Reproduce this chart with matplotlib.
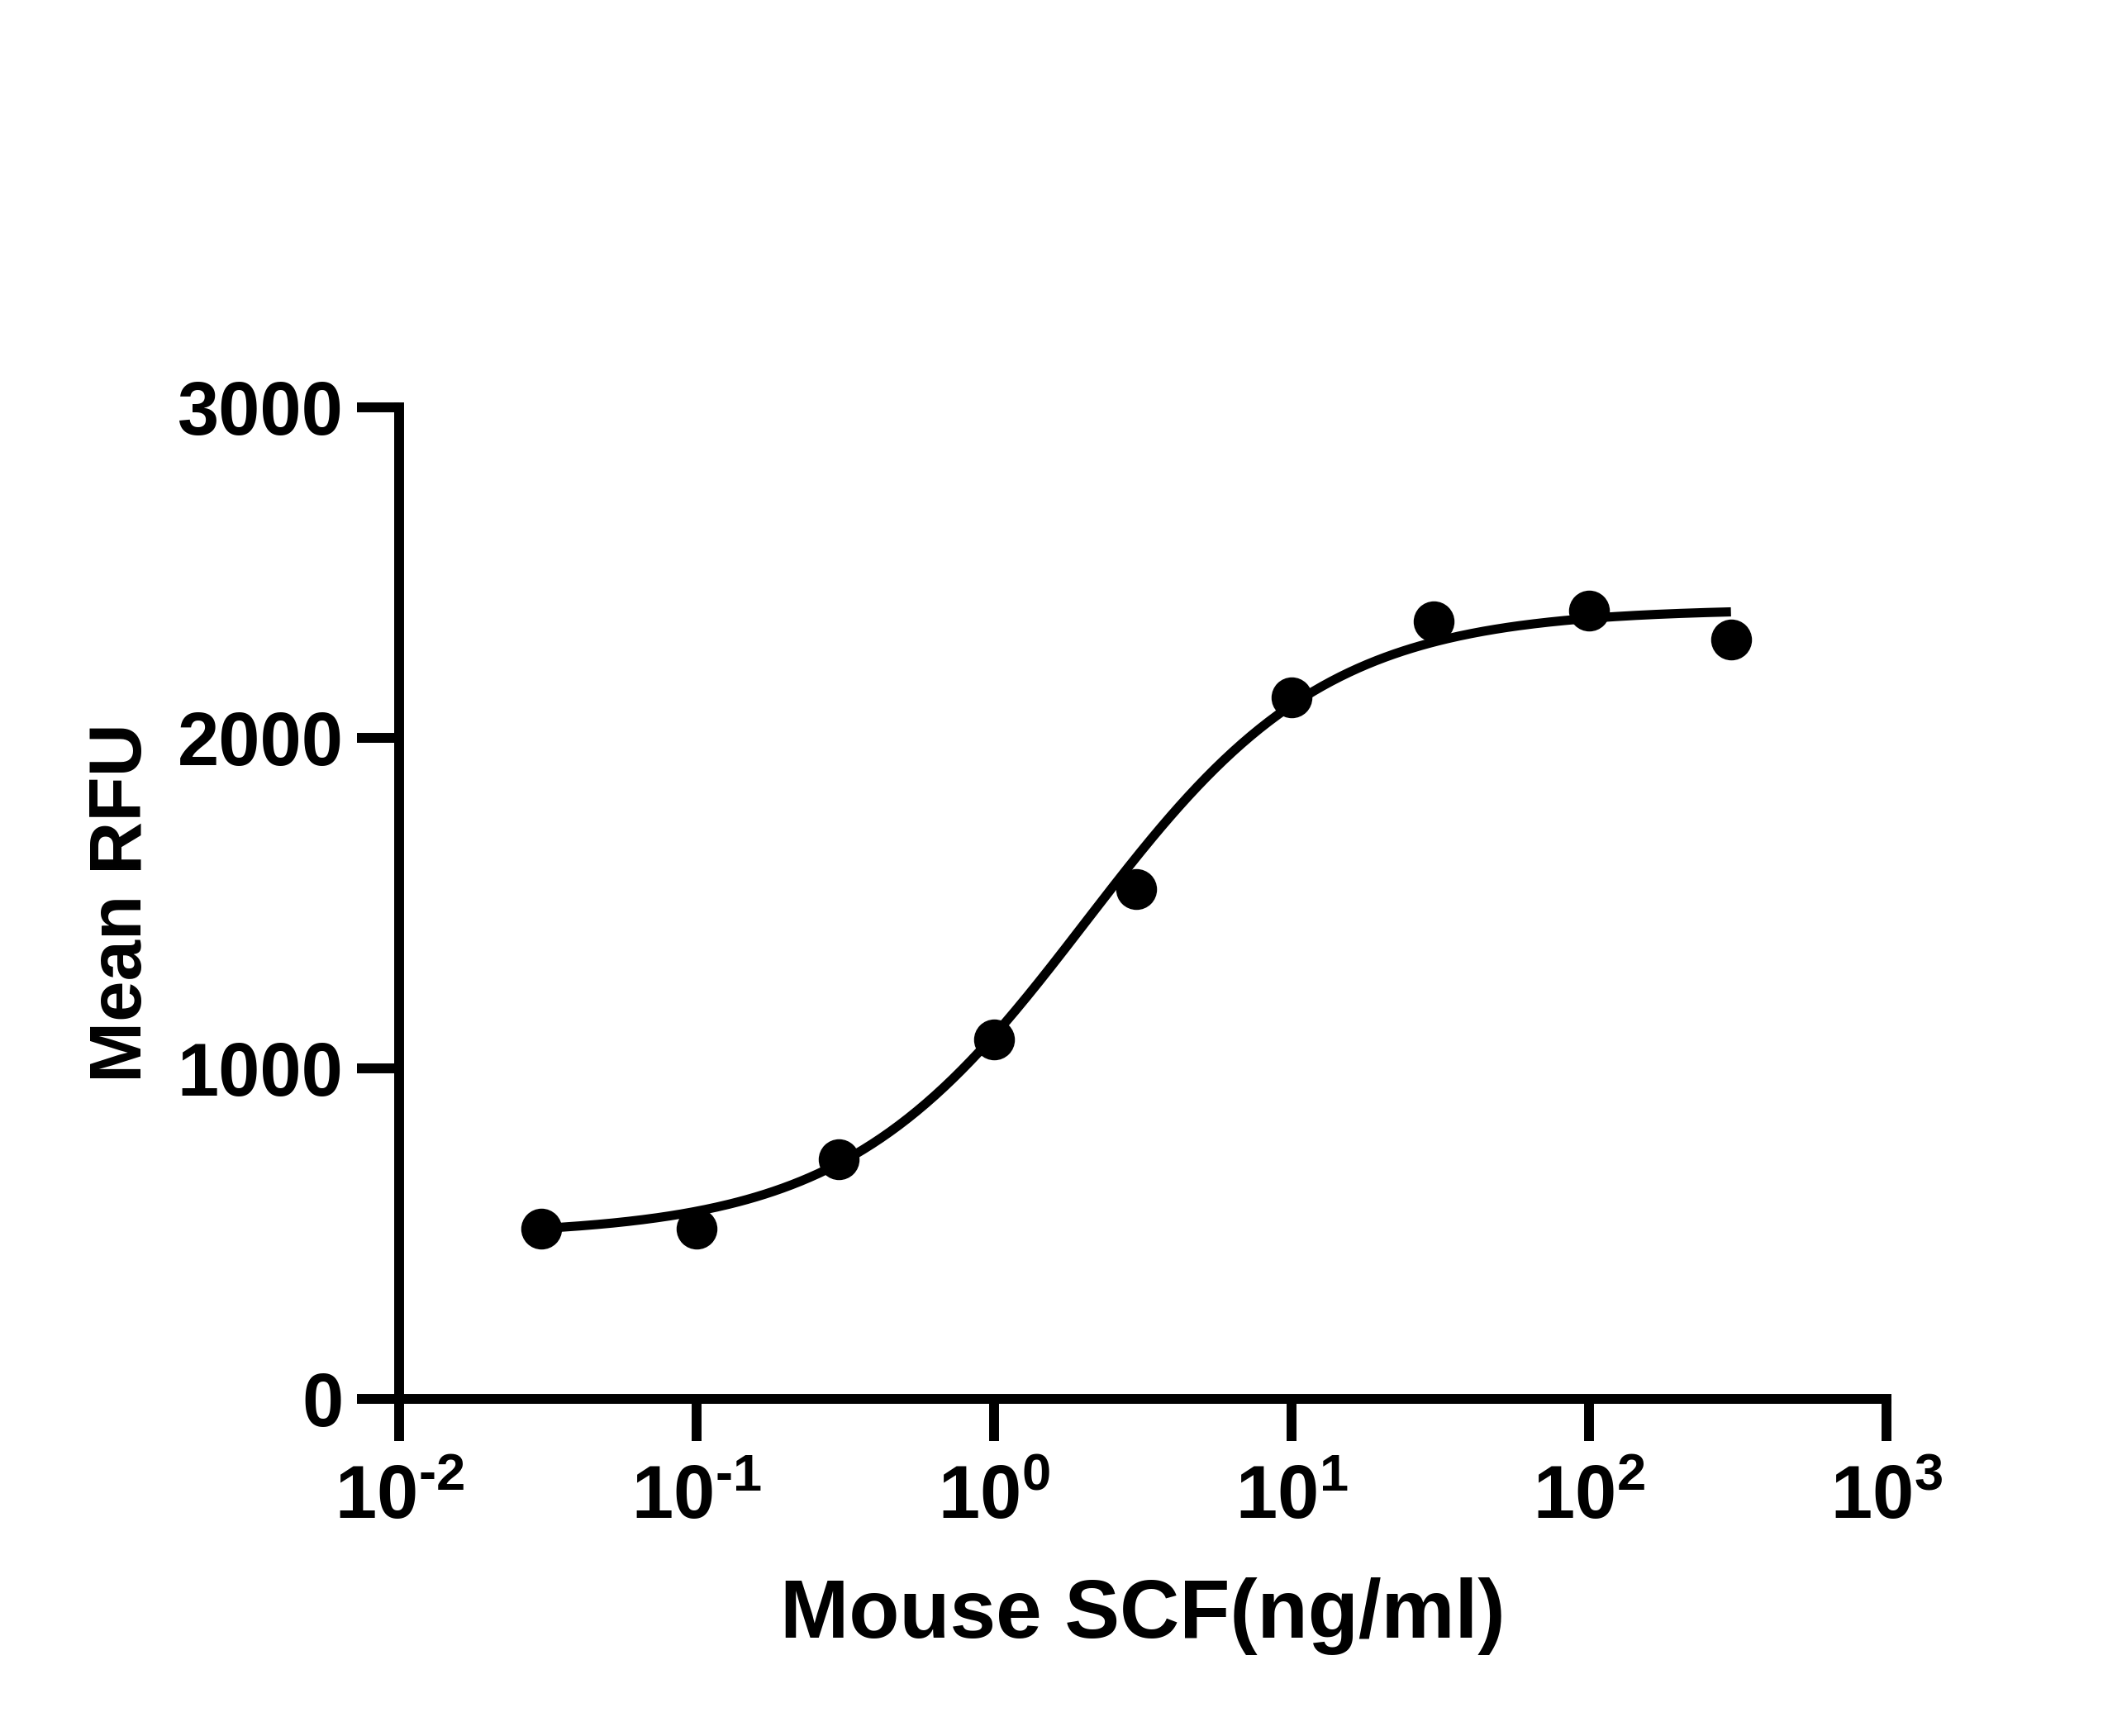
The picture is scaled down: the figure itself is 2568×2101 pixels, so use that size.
import matplotlib
matplotlib.use('Agg')
import matplotlib.pyplot as plt
import numpy as np

# data
conc = [0.03, 0.1, 0.3, 1, 3, 10, 30, 100, 300]          # ng/ml
rfu = [515, 515, 725, 1087, 1543, 2122, 2352, 2385, 2297]

# four parameter logistic fit shown on the chart
fit_bottom = 495
fit_top = 2390
fit_ec50 = 2.03
fit_hill = 1.07

xticks = [0.01, 0.1, 1, 10, 100, 1000]
xtick_labels = [r'$\mathrm{10^{\text{-}2}}$', r'$\mathrm{10^{\text{-}1}}$', r'$\mathrm{10^{0}}$',
                r'$\mathrm{10^{1}}$', r'$\mathrm{10^{2}}$', r'$\mathrm{10^{3}}$']
yticks = [0, 1000, 2000, 3000]

plt.rcParams['font.family'] = ['Liberation Sans', 'DejaVu Sans']
plt.rcParams['font.weight'] = 'bold'
plt.rcParams['mathtext.fontset'] = 'custom'
plt.rcParams['mathtext.rm'] = 'Liberation Sans:bold'
plt.rcParams['mathtext.bf'] = 'Liberation Sans:bold'
plt.rcParams['mathtext.it'] = 'Liberation Sans:bold'

fig = plt.figure(figsize=(25.68, 21.01), dpi=100)
ax = fig.add_axes([0.1881, 0.1942, 0.7009, 0.5712])

xs = np.logspace(np.log10(conc[0]), np.log10(conc[-1]), 400)
curve = fit_bottom + (fit_top - fit_bottom) / (1 + (fit_ec50 / xs) ** fit_hill)
ax.plot(xs, curve, color='black', lw=8, solid_capstyle='butt', zorder=2)
ax.plot(conc, rfu, 'o', color='black', markersize=34.6, zorder=3)

ax.set_xscale('log')
ax.set_xlim(0.01, 1000)
ax.set_ylim(0, 3000)
ax.set_xticks(xticks)
ax.set_xticklabels(xtick_labels)
ax.xaxis.set_minor_locator(matplotlib.ticker.NullLocator())
ax.set_yticks(yticks)

for s in ['top', 'right']:
    ax.spines[s].set_visible(False)
for s in ['left', 'bottom']:
    ax.spines[s].set_linewidth(8.6)
    ax.spines[s].set_capstyle('projecting')

ax.tick_params(axis='both', length=36.7, width=8.6, labelsize=65)
ax.tick_params(axis='x', pad=20)
ax.tick_params(axis='y', pad=12)
for lab in ax.get_yticklabels():
    lab.set_fontweight('bold')

ax.set_xlabel('Mouse SCF(ng/ml)', fontsize=72, fontweight='bold')
ax.set_ylabel('Mean RFU', fontsize=64, fontweight='bold')
ax.xaxis.set_label_coords(0.5, -0.18)
ax.yaxis.set_label_coords(-0.1628, 0.5)

fig.savefig('out.png', dpi=100, facecolor='white')
